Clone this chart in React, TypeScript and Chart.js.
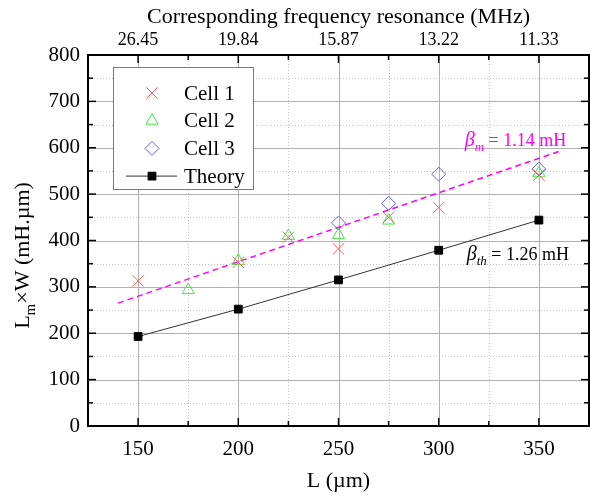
import React, { useEffect, useRef } from 'react';
import { Chart, registerables } from 'chart.js';
import { drawPoint } from 'chart.js/helpers';

Chart.register(...registerables);

// ---- data ----
const xTicks = [150, 200, 250, 300, 350];
const freqLabels = ['26.45', '19.84', '15.87', '13.22', '11.33'];

const cell1X = [150, 200, 225, 250, 275, 300, 350];
const cell1Y = [313, 353, 407, 382, 450, 471, 541];

const cell2X = [175, 200, 225, 250, 275, 350];
const cell2Y = [293, 356, 410, 412, 443, 545];

const cell3X = [250, 275, 300, 350];
const cell3Y = [438, 480, 543, 554];

const theoryX = [150, 200, 250, 300, 350];
const theoryY = [193, 252, 315, 379, 444];

const fitX = [140, 360];
const fitY = [265, 592];

const betaMAnchor = { x: 313, y: 604, sub: 'm', text: ' = 1.14 mH' };
const betaThAnchor = { x: 314, y: 358, sub: 'th', text: ' = 1.26 mH' };

const SERIF = "'Liberation Serif', 'Times New Roman', serif";

const pts = (xs: number[], ys: number[]) => xs.map((x, i) => ({ x, y: ys[i] }));

const RED = '#ff5a5a';
const GREEN = '#44e844';
const BLUE = '#5e5eff';
const MAGENTA = '#ff00ff';

const decor = {
  id: 'decor',
  beforeDatasetsDraw(chart: any) {
    const { ctx, chartArea: a, scales } = chart;
    const x = scales.x;
    const y = scales.y;
    ctx.save();
    ctx.lineWidth = 1;
    // minor dotted grid
    ctx.strokeStyle = '#c4c4c4';
    ctx.setLineDash([1, 2]);
    for (let v = 50; v < 800; v += 100) {
      const p = Math.round(y.getPixelForValue(v)) + 0.5;
      ctx.beginPath(); ctx.moveTo(a.left, p); ctx.lineTo(a.right, p); ctx.stroke();
    }
    for (let i = 0; i < xTicks.length - 1; i++) {
      const v = (xTicks[i] + xTicks[i + 1]) / 2;
      const p = Math.round(x.getPixelForValue(v)) + 0.5;
      ctx.beginPath(); ctx.moveTo(p, a.top); ctx.lineTo(p, a.bottom); ctx.stroke();
    }
    // major solid grid
    ctx.setLineDash([]);
    ctx.strokeStyle = '#b0b0b0';
    for (let v = 100; v < 800; v += 100) {
      const p = Math.round(y.getPixelForValue(v)) + 0.5;
      ctx.beginPath(); ctx.moveTo(a.left, p); ctx.lineTo(a.right, p); ctx.stroke();
    }
    for (const v of xTicks) {
      const p = Math.round(x.getPixelForValue(v)) + 0.5;
      ctx.beginPath(); ctx.moveTo(p, a.top); ctx.lineTo(p, a.bottom); ctx.stroke();
    }
    ctx.restore();
  },
  afterDatasetsDraw(chart: any) {
    const { ctx, chartArea: a, scales } = chart;
    const x = scales.x;
    const y = scales.y;
    ctx.save();
    // frame
    ctx.strokeStyle = '#000';
    ctx.lineWidth = 2;
    ctx.strokeRect(a.left, a.top, a.right - a.left, a.bottom - a.top);
    // ticks (inside)
    ctx.lineWidth = 1.5;
    const tick = (x1: number, y1: number, x2: number, y2: number) => {
      ctx.beginPath(); ctx.moveTo(x1, y1); ctx.lineTo(x2, y2); ctx.stroke();
    };
    for (let v = 50; v < 800; v += 50) {
      const p = y.getPixelForValue(v);
      const len = v % 100 === 0 ? 8 : 5;
      tick(a.left, p, a.left + len, p);
      tick(a.right, p, a.right - len, p);
    }
    for (let v = 150; v <= 350; v += 25) {
      const p = x.getPixelForValue(v);
      const len = v % 50 === 0 ? 8 : 5;
      tick(p, a.bottom, p, a.bottom - len);
      tick(p, a.top, p, a.top + len);
    }

    // y axis title with subscript
    {
      const big = `22px ${SERIF}`;
      const small = `15px ${SERIF}`;
      ctx.fillStyle = '#000';
      ctx.textBaseline = 'alphabetic';
      ctx.textAlign = 'left';
      ctx.font = big; const w1 = ctx.measureText('L').width;
      ctx.font = small; const w2 = ctx.measureText('m').width;
      ctx.font = big; const w3 = ctx.measureText('×W (mH.µm)').width;
      const total = w1 + w2 + w3;
      ctx.save();
      ctx.translate(29, (a.top + a.bottom) / 2 + 15);
      ctx.rotate(-Math.PI / 2);
      let cx = -total / 2;
      ctx.font = big; ctx.fillText('L', cx, 0); cx += w1;
      ctx.font = small; ctx.fillText('m', cx, 6); cx += w2;
      ctx.font = big; ctx.fillText('×W (mH.µm)', cx, 0);
      ctx.restore();
    }

    // annotations
    const annot = (anc: any, color: string) => {
      const px = x.getPixelForValue(anc.x);
      const py = y.getPixelForValue(anc.y);
      ctx.fillStyle = color;
      ctx.textAlign = 'left';
      ctx.textBaseline = 'alphabetic';
      ctx.font = `italic 20px ${SERIF}`;
      ctx.fillText('β', px, py);
      let cx = px + ctx.measureText('β').width;
      ctx.font = `italic 13px ${SERIF}`;
      ctx.fillText(anc.sub, cx, py + 5);
      cx += ctx.measureText(anc.sub).width;
      ctx.font = `18px ${SERIF}`;
      ctx.fillText(anc.text, cx, py);
    };
    annot(betaMAnchor, MAGENTA);
    annot(betaThAnchor, '#000');

    // legend
    const L = a.left + 25;
    const T = a.top + 12;
    ctx.fillStyle = '#fff';
    ctx.fillRect(L, T, 140, 122);
    ctx.strokeStyle = '#7a7a7a';
    ctx.lineWidth = 1;
    ctx.strokeRect(L + 0.5, T + 0.5, 140, 122);
    const rows = [
      { label: 'Cell 1', style: 'crossRot', color: RED, r: 8 },
      { label: 'Cell 2', style: 'triangle', color: GREEN, r: 7 },
      { label: 'Cell 3', style: 'rectRot', color: BLUE, r: 7 },
      { label: 'Theory', style: 'rect', color: '#000', r: 5.5 },
    ];
    rows.forEach((row, i) => {
      const ry = T + 26 + i * 27.7;
      const sx = L + 39;
      if (row.label === 'Theory') {
        ctx.strokeStyle = '#333';
        ctx.lineWidth = 1;
        ctx.beginPath(); ctx.moveTo(L + 13, ry); ctx.lineTo(L + 64, ry); ctx.stroke();
        ctx.fillStyle = '#000';
        ctx.strokeStyle = '#000';
        drawPoint(ctx, { pointStyle: 'rect', radius: row.r, rotation: 0, borderWidth: 1 } as any, sx, ry);
      } else {
        ctx.fillStyle = 'rgba(0,0,0,0)';
        ctx.strokeStyle = row.color;
        ctx.lineWidth = 1;
        drawPoint(ctx, { pointStyle: row.style, radius: row.r, rotation: 0, borderWidth: 1 } as any, sx, ry);
      }
      ctx.fillStyle = '#000';
      ctx.font = `21px ${SERIF}`;
      ctx.textAlign = 'left';
      ctx.textBaseline = 'middle';
      ctx.fillText(row.label, L + 71, ry + 1);
    });
    ctx.restore();
  },
};

export default function App() {
  const ref = useRef<HTMLCanvasElement>(null);
  useEffect(() => {
    if (!ref.current) return;
    const chart = new Chart(ref.current, {
      type: 'scatter',
      data: {
        datasets: [
          {
            label: 'Cell 1', data: pts(cell1X, cell1Y), pointStyle: 'crossRot', pointRadius: 8,
            borderColor: RED, backgroundColor: 'rgba(0,0,0,0)', pointBorderWidth: 1, showLine: false,
          },
          {
            label: 'Cell 2', data: pts(cell2X, cell2Y), pointStyle: 'triangle', pointRadius: 7,
            borderColor: GREEN, backgroundColor: 'rgba(0,0,0,0)', pointBorderWidth: 1, showLine: false,
          },
          {
            label: 'Cell 3', data: pts(cell3X, cell3Y), pointStyle: 'rectRot', pointRadius: 7,
            borderColor: BLUE, backgroundColor: 'rgba(0,0,0,0)', pointBorderWidth: 1, showLine: false,
          },
          {
            label: 'Theory', data: pts(theoryX, theoryY), pointStyle: 'rect', pointRadius: 5.5,
            borderColor: '#333', pointBorderColor: '#000', pointBackgroundColor: '#000',
            borderWidth: 1, showLine: true,
          },
          {
            label: 'fit', data: pts(fitX, fitY), pointRadius: 0, borderColor: MAGENTA,
            borderWidth: 1.5, borderDash: [6, 4], showLine: true,
          },
        ] as any,
      },
      options: {
        animation: false,
        responsive: false,
        events: [],
        layout: { autoPadding: false, padding: { left: 0, right: 1, top: 0, bottom: 0 } },
        plugins: { legend: { display: false }, tooltip: { enabled: false } },
        scales: {
          x: {
            type: 'linear', position: 'bottom', min: 125, max: 375,
            afterBuildTicks: (s: any) => { s.ticks = xTicks.map((v) => ({ value: v })); },
            afterFit: (s: any) => { s.height = 71; s.paddingLeft = 0; s.paddingRight = 0; },
            grid: { display: false, drawTicks: false }, border: { display: false },
            ticks: { font: { family: SERIF, size: 21 }, color: '#000', padding: 11, maxRotation: 0 },
            title: {
              display: true, text: 'L (µm)', color: '#000',
              font: { family: SERIF, size: 22 }, padding: { top: 0, bottom: 3 },
            },
          },
          xTop: {
            type: 'linear', position: 'top', min: 125, max: 375,
            afterBuildTicks: (s: any) => { s.ticks = xTicks.map((v) => ({ value: v })); },
            afterFit: (s: any) => { s.height = 55; s.paddingLeft = 0; s.paddingRight = 0; },
            grid: { display: false, drawTicks: false }, border: { display: false },
            ticks: {
              font: { family: SERIF, size: 18 }, color: '#000', padding: 4, maxRotation: 0,
              callback: (_v: any, i: number) => freqLabels[i],
            },
            title: {
              display: true, text: 'Corresponding frequency resonance (MHz)', color: '#000',
              font: { family: SERIF, size: 22 }, padding: { top: 4, bottom: 0 },
            },
          },
          y: {
            type: 'linear', position: 'left', min: 0, max: 800,
            afterFit: (s: any) => { s.width = 88; },
            grid: { display: false, drawTicks: false }, border: { display: false },
            ticks: { stepSize: 100, font: { family: SERIF, size: 21 }, color: '#000', padding: 8 },
            title: { display: false },
          },
        },
      } as any,
      plugins: [decor],
    });
    return () => chart.destroy();
  }, []);
  return (
    <div style={{ position: 'absolute', left: 0, top: 0, width: 590, height: 497 }}>
      <canvas ref={ref} width={590} height={497} />
    </div>
  );
}
